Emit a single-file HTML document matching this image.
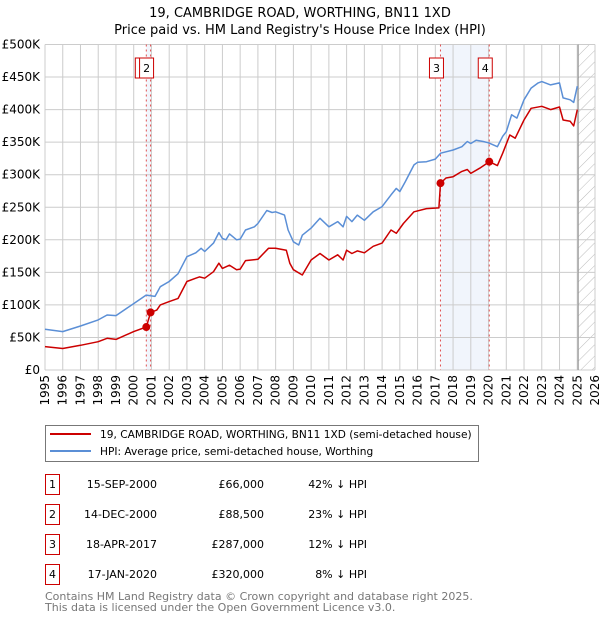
<!DOCTYPE html>
<html><head><meta charset="utf-8"><style>
body{margin:0;background:#fff;font-family:"Liberation Sans","DejaVu Sans",sans-serif;}
#wrap{position:relative;width:600px;height:620px;overflow:hidden;}
svg text{font-family:"DejaVu Sans","Liberation Sans",sans-serif;}
</style></head><body>
<div id="wrap">
<svg id="chart" width="600" height="620"></svg>
</div>
<script>
const hpiYears=[1995,1996,1997,1998,1998.5,1999,2000,2000.7,2001.2,2001.5,2002,2002.5,2003,2003.5,2003.8,2004,2004.5,2004.8,2005,2005.2,2005.4,2005.8,2006,2006.3,2006.8,2007,2007.5,2007.8,2008,2008.5,2008.7,2009,2009.3,2009.5,2010,2010.5,2011,2011.5,2011.8,2012,2012.3,2012.6,2013,2013.5,2014,2014.5,2014.8,2015,2015.3,2015.8,2016,2016.5,2017,2017.3,2018,2018.5,2018.8,2019,2019.3,2019.7,2020,2020.5,2020.8,2021,2021.3,2021.6,2022,2022.4,2022.8,2023,2023.5,2024,2024.2,2024.6,2024.8,2025];
const hpiValues=[62.5,59,67.6,77,84.5,83.5,102,115,113,128,136,148,174,180,187,182,195,211,202,200,209,200,201,215,220,225,245,242,243,238,215,197,192,207,218,233,220,228,220,236,228,238,230,243,251,269,279,274,289,315,319,320,324,333,338,343,351,348,353,351,349,343,359,366,392,387,415,433,441,443,438,441,418,415,411,436];
const priceYears=[1995,1996,1997,1998,1998.5,1999,2000,2000.71,2000.95,2001.3,2001.5,2002,2002.5,2003,2003.5,2003.7,2004,2004.5,2004.8,2005,2005.4,2005.8,2006,2006.3,2007,2007.6,2008,2008.6,2008.8,2009,2009.5,2010,2010.5,2011,2011.5,2011.8,2012,2012.3,2012.6,2013,2013.5,2014,2014.5,2014.8,2015.2,2015.8,2016.5,2017.2,2017.29,2017.6,2018,2018.5,2018.8,2019,2019.5,2020.04,2020.5,2020.8,2021.2,2021.5,2022,2022.4,2023,2023.5,2024,2024.2,2024.6,2024.8,2025];
const priceValues=[36,33,38,43.5,48.7,47,59,66,88.5,92,100,105,110,136,141,143,141,151,164,156,161,154,155,168,170,187,187,184,164,154,146,169,179,169,177,169,184,179,183,180,190,195,215,210,225,243,248,249,287,295,297,305,308,302,310,320,314,333,361,356,384,402,405,400,404,384,382,375,400];
const saleLabels=["1","2","3","4"];
const saleYears=[2000.71,2000.95,2017.29,2020.04];
const saleValues=[66,88.5,287,320];
const saleDates=["15-SEP-2000","14-DEC-2000","18-APR-2017","17-JAN-2020"];
const salePrices=["£66,000","£88,500","£287,000","£320,000"];
const saleHpi=["42% ↓ HPI","23% ↓ HPI","12% ↓ HPI","8% ↓ HPI"];
const yTicks=[0,50,100,150,200,250,300,350,400,450,500];
const yTickLabels=["£0","£50K","£100K","£150K","£200K","£250K","£300K","£350K","£400K","£450K","£500K"];
const xTicks=[];for(let y=1995;y<=2026;y++)xTicks.push(y);

const L=45,R=595,T=44.5,B=370,X0=1995,X1=2026,YMAX=500;
const xs=v=>L+(v-X0)/(X1-X0)*(R-L);
const ys=v=>B-v/YMAX*(B-T);
const NS="http://www.w3.org/2000/svg";
const svg=document.getElementById('chart');
function mk(tag,attrs,parent){const e=document.createElementNS(NS,tag);for(const k in attrs)e.setAttribute(k,attrs[k]);(parent||svg).appendChild(e);return e;}

let t=mk('text',{x:300,y:17,'text-anchor':'middle','font-size':13,fill:'#000'});t.textContent="19, CAMBRIDGE ROAD, WORTHING, BN11 1XD";


t=mk('text',{x:300,y:34,'text-anchor':'middle','font-size':13,fill:'#000'});t.textContent="Price paid vs. HM Land Registry's House Price Index (HPI)";



const defs=mk('defs',{});
const pat=mk('pattern',{id:'hatch',width:8,height:8,patternUnits:'userSpaceOnUse',patternTransform:'rotate(45)'},defs);
mk('line',{x1:0,y1:0,x2:0,y2:8,stroke:'#bbb','stroke-width':1},pat);

for(let i=0;i<4;i+=2){
  const r=mk('rect',{x:xs(saleYears[i]),y:T,width:xs(saleYears[i+1])-xs(saleYears[i]),height:B-T,fill:'#e8eefa',opacity:0.6});
  
  
}
const hz=mk('rect',{x:xs(2025.05),y:T,width:R-xs(2025.05),height:B-T,fill:'url(#hatch)'});



xTicks.forEach(v=>{mk('line',{x1:xs(v),x2:xs(v),y1:T,y2:B,stroke:'#ccc','stroke-width':1});});
yTicks.forEach(v=>{mk('line',{x1:L,x2:R,y1:ys(v),y2:ys(v),stroke:'#ccc','stroke-width':1});});
mk('line',{x1:xs(2025.05),x2:xs(2025.05),y1:T,y2:B,stroke:'#999','stroke-width':1.2});

yTicks.forEach((v,i)=>{const e=mk('text',{x:40,y:ys(v)+4,'text-anchor':'end','font-size':12,fill:'#000'});e.textContent=yTickLabels[i];

});
xTicks.forEach(v=>{const e=mk('text',{x:0,y:0,'text-anchor':'end','font-size':12,fill:'#000',transform:`translate(${xs(v)+4},375) rotate(-90)`});e.textContent=v;

});

saleYears.forEach(v=>{const e=mk('line',{x1:xs(v),x2:xs(v),y1:T,y2:B,stroke:'#e05050','stroke-width':1,'stroke-dasharray':'2,3'});

});

function path(xa,va,color,name){
  const d=xa.map((x,i)=>(i?'L':'M')+xs(x).toFixed(1)+','+ys(va[i]).toFixed(1)).join('');
  const p=mk('path',{d:d,fill:'none',stroke:color,'stroke-width':1.5,'stroke-linejoin':'round'});
  
  
}
path(hpiYears,hpiValues,'#5b8fd6','hpi-line');
path(priceYears,priceValues,'#cc0000','price-paid-line');

saleYears.forEach((v,i)=>{const c=mk('circle',{cx:xs(v),cy:ys(saleValues[i]),r:4,fill:'#cc0000'});

});

saleYears.forEach((v,i)=>{
  const g=mk('g',{});
  
  
  const cx=xs(v)-4;
  mk('rect',{x:cx-7,y:58,width:14,height:20,fill:'#fff',stroke:'#cc0000','stroke-width':1},g);
  const e=mk('text',{x:cx,y:72,'text-anchor':'middle','font-size':11,fill:'#000'},g);e.textContent=saleLabels[i];
});

const lg=mk('g',{});


mk('rect',{x:45.5,y:425.5,width:433,height:36,fill:'#fff',stroke:'#777'},lg);
mk('line',{x1:50,x2:91,y1:434,y2:434,stroke:'#cc0000','stroke-width':2},lg);
mk('line',{x1:50,x2:91,y1:451,y2:451,stroke:'#5b8fd6','stroke-width':2},lg);
let e=mk('text',{x:100,y:438,'font-size':10.6,fill:'#000'},lg);e.textContent="19, CAMBRIDGE ROAD, WORTHING, BN11 1XD (semi-detached house)";


e=mk('text',{x:100,y:455,'font-size':10.6,fill:'#000'},lg);e.textContent="HPI: Average price, semi-detached house, Worthing";



saleLabels.forEach((lab,i)=>{
  const y=483+i*30;
  const g=mk('g',{});
  
  
  mk('rect',{x:45.5,y:y-8.5,width:14,height:20,fill:'#fff',stroke:'#cc0000'},g);
  let tx=mk('text',{x:52.5,y:y+5,'text-anchor':'middle','font-size':11},g);tx.textContent=lab;
  tx=mk('text',{x:157,y:y+5,'text-anchor':'end','font-size':11},g);tx.textContent=saleDates[i];
  tx=mk('text',{x:264,y:y+5,'text-anchor':'end','font-size':11},g);tx.textContent=salePrices[i];
  tx=mk('text',{x:367,y:y+5,'text-anchor':'end','font-size':11},g);tx.textContent=saleHpi[i];
});
e=mk('text',{x:45,y:600,'font-size':11,fill:'#777'});e.textContent="Contains HM Land Registry data © Crown copyright and database right 2025.";


e=mk('text',{x:45,y:611,'font-size':11,fill:'#777'});e.textContent="This data is licensed under the Open Government Licence v3.0.";


</script>
</body></html>
